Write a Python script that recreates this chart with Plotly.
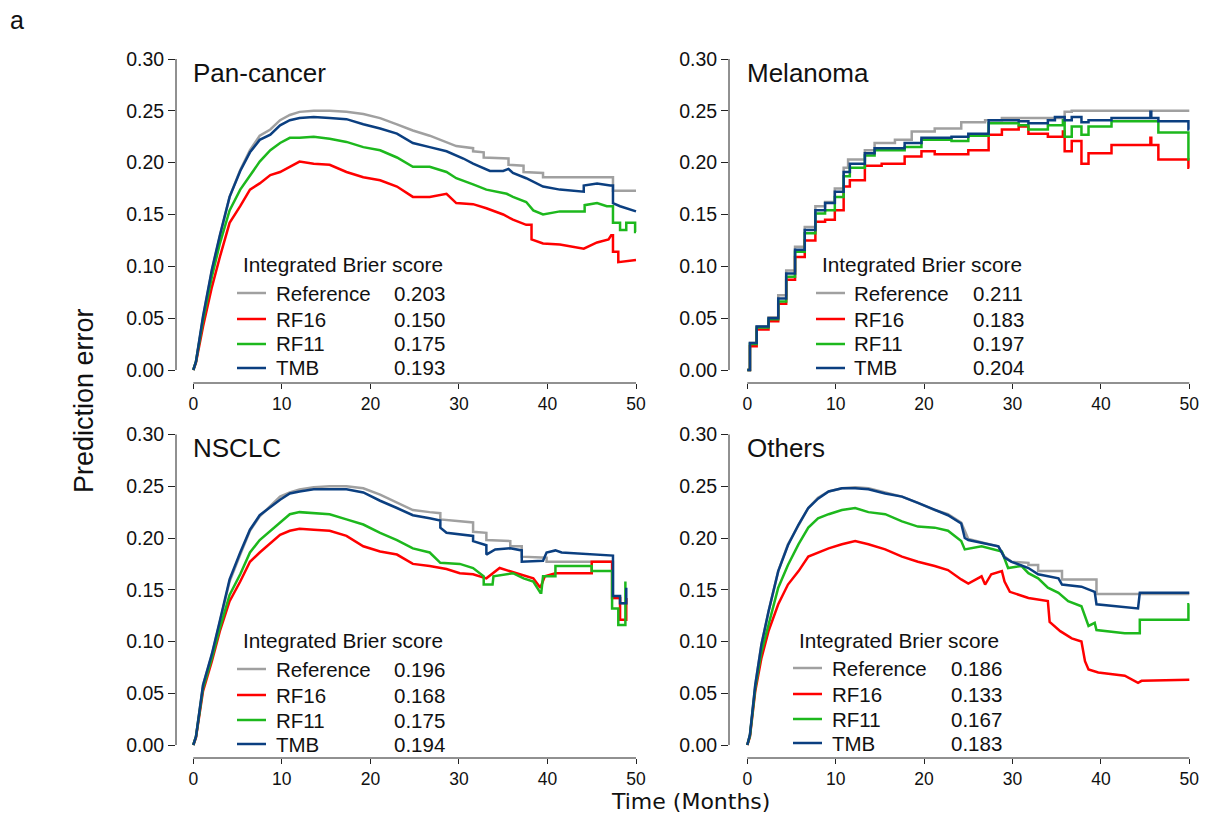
import plotly.graph_objects as go

# ---------------- data ----------------
series_names = ["Reference", "RF16", "RF11", "TMB"]
panel_titles = ["Pan-cancer", "Melanoma", "NSCLC", "Others"]
ibs_pan = ["0.203", "0.150", "0.175", "0.193"]
ibs_mel = ["0.211", "0.183", "0.197", "0.204"]
ibs_nsclc = ["0.196", "0.168", "0.175", "0.194"]
ibs_oth = ["0.186", "0.133", "0.167", "0.183"]
x_ticks = [0, 10, 20, 30, 40, 50]
y_ticks = [0.0, 0.05, 0.10, 0.15, 0.20, 0.25, 0.30]

# Pan-cancer
pan_ref_t = [0, 0.3, 1.1, 2.1, 3.0, 4.1, 5.3, 6.4, 7.5, 8.7, 9.8, 10.9, 12.0, 13.6, 15.4, 17.3, 19.2, 21.1, 23.0, 24.8, 26.7, 28.6, 29.7, 31.6, 31.6, 32.8, 32.8, 35.6, 35.6, 37.3, 37.3, 39.5, 39.5, 47.4, 47.4, 50.0]
pan_ref_v = [0, 0.008, 0.051, 0.096, 0.129, 0.167, 0.193, 0.212, 0.226, 0.232, 0.241, 0.246, 0.249, 0.250, 0.250, 0.249, 0.247, 0.243, 0.237, 0.231, 0.226, 0.220, 0.216, 0.214, 0.211, 0.210, 0.205, 0.204, 0.198, 0.197, 0.191, 0.190, 0.186, 0.186, 0.173, 0.173]
pan_rf16_t = [0, 0.3, 1.1, 2.1, 3.0, 4.1, 5.3, 6.4, 7.5, 8.7, 9.8, 10.9, 12.0, 13.6, 15.4, 17.3, 19.2, 21.1, 23.0, 24.8, 26.7, 28.6, 29.7, 31.6, 33.1, 35.0, 36.1, 37.6, 38.2, 38.2, 39.5, 41.4, 44.1, 45.6, 46.9, 47.2, 47.4, 47.4, 48.0, 48.0, 50.0]
pan_rf16_v = [0, 0.007, 0.042, 0.080, 0.109, 0.142, 0.158, 0.174, 0.180, 0.188, 0.191, 0.196, 0.201, 0.199, 0.198, 0.191, 0.186, 0.183, 0.177, 0.167, 0.167, 0.170, 0.161, 0.160, 0.156, 0.150, 0.145, 0.140, 0.140, 0.126, 0.122, 0.121, 0.117, 0.123, 0.126, 0.130, 0.130, 0.114, 0.114, 0.104, 0.106]
pan_rf11_t = [0, 0.3, 1.1, 2.1, 3.0, 4.1, 5.3, 6.4, 7.5, 8.7, 9.8, 10.9, 12.0, 13.6, 15.4, 17.3, 19.2, 21.1, 23.0, 24.8, 26.7, 28.6, 29.7, 31.6, 33.1, 35.4, 36.1, 37.6, 38.4, 39.5, 41.4, 44.2, 44.2, 45.6, 46.7, 47.4, 47.4, 48.2, 48.2, 48.9, 48.9, 49.9, 49.9, 50.0]
pan_rf11_v = [0, 0.008, 0.048, 0.090, 0.122, 0.154, 0.174, 0.188, 0.201, 0.212, 0.219, 0.224, 0.224, 0.225, 0.223, 0.220, 0.215, 0.212, 0.205, 0.196, 0.196, 0.191, 0.185, 0.179, 0.174, 0.170, 0.167, 0.162, 0.154, 0.150, 0.153, 0.153, 0.159, 0.161, 0.158, 0.158, 0.142, 0.142, 0.135, 0.135, 0.142, 0.142, 0.133, 0.133]
pan_tmb_t = [0, 0.3, 1.1, 2.1, 3.0, 4.1, 5.3, 6.4, 7.5, 8.7, 9.8, 10.9, 12.0, 13.6, 15.4, 17.3, 19.2, 21.1, 23.0, 24.8, 26.7, 28.6, 30.5, 31.6, 33.5, 35.0, 35.6, 36.1, 37.6, 39.5, 41.4, 44.1, 44.1, 45.6, 47.1, 47.4, 47.4, 48.2, 50.0]
pan_tmb_v = [0, 0.008, 0.052, 0.097, 0.130, 0.167, 0.192, 0.210, 0.222, 0.227, 0.236, 0.241, 0.243, 0.244, 0.243, 0.242, 0.237, 0.233, 0.228, 0.219, 0.215, 0.211, 0.204, 0.199, 0.192, 0.192, 0.194, 0.190, 0.185, 0.177, 0.174, 0.172, 0.178, 0.180, 0.178, 0.178, 0.161, 0.158, 0.153]

# Melanoma (step curves)
mel_ref_t = [0, 0.3, 1.06, 2.4, 3.5, 4.4, 5.4, 6.5, 7.7, 8.8, 9.9, 10.9, 11.4, 13.3, 14.4, 16.7, 18.6, 21.2, 24.2, 26.9, 28.8, 35.9, 36.7, 50.0]
mel_ref_v = [0, 0.026, 0.042, 0.051, 0.072, 0.096, 0.119, 0.138, 0.158, 0.162, 0.175, 0.195, 0.203, 0.212, 0.219, 0.222, 0.230, 0.233, 0.239, 0.241, 0.243, 0.249, 0.250, 0.250]
mel_rf16_t = [0, 0.3, 1.06, 2.4, 3.5, 4.4, 5.4, 6.5, 7.7, 8.8, 9.9, 10.9, 11.6, 13.3, 15.2, 17.8, 19.7, 21.2, 25.0, 27.3, 28.8, 30.7, 31.8, 34.0, 35.7, 35.9, 36.7, 37.8, 38.6, 41.2, 45.6, 45.7, 46.5, 49.9, 50.0]
mel_rf16_v = [0, 0.023, 0.039, 0.047, 0.064, 0.087, 0.109, 0.125, 0.143, 0.145, 0.154, 0.177, 0.183, 0.197, 0.199, 0.206, 0.211, 0.208, 0.212, 0.227, 0.232, 0.235, 0.228, 0.225, 0.230, 0.211, 0.221, 0.199, 0.209, 0.217, 0.224, 0.217, 0.203, 0.195, 0.195]
mel_rf11_t = [0, 0.3, 1.06, 2.4, 3.5, 4.4, 5.4, 6.5, 7.7, 8.8, 9.9, 10.9, 11.6, 13.3, 14.4, 17.8, 19.7, 23.1, 25.0, 27.3, 30.7, 31.8, 34.0, 35.7, 35.9, 36.7, 37.8, 38.6, 41.2, 46.5, 49.9, 50.0]
mel_rf11_v = [0, 0.025, 0.041, 0.049, 0.066, 0.090, 0.114, 0.132, 0.151, 0.154, 0.167, 0.187, 0.195, 0.207, 0.212, 0.215, 0.222, 0.221, 0.226, 0.238, 0.236, 0.232, 0.236, 0.241, 0.225, 0.235, 0.227, 0.235, 0.240, 0.229, 0.203, 0.203]
mel_tmb_t = [0, 0.3, 1.06, 2.4, 3.5, 4.4, 5.4, 6.5, 7.7, 8.8, 9.9, 10.9, 11.6, 13.3, 14.4, 17.8, 19.7, 23.1, 25.0, 27.3, 30.7, 31.8, 34.0, 34.8, 35.9, 36.7, 37.8, 38.6, 41.2, 45.6, 45.7, 46.5, 49.9, 50.0]
mel_tmb_v = [0, 0.026, 0.042, 0.050, 0.069, 0.093, 0.116, 0.135, 0.154, 0.161, 0.172, 0.191, 0.199, 0.209, 0.214, 0.219, 0.224, 0.225, 0.228, 0.241, 0.240, 0.238, 0.241, 0.244, 0.241, 0.244, 0.239, 0.241, 0.243, 0.249, 0.243, 0.240, 0.232, 0.232]

# NSCLC
nsc_ref_t = [0, 0.3, 1.1, 2.1, 3.0, 4.1, 5.3, 6.4, 7.5, 8.7, 9.8, 10.9, 12.0, 13.6, 15.4, 17.3, 19.2, 21.1, 23.0, 24.8, 26.7, 27.9, 27.9, 31.6, 31.6, 33.1, 33.1, 35.8, 35.8, 37.1, 37.1, 39.9, 39.9, 47.4, 47.4, 48.2, 48.2, 48.9, 48.9]
nsc_ref_v = [0, 0.008, 0.058, 0.087, 0.119, 0.158, 0.184, 0.207, 0.221, 0.231, 0.240, 0.244, 0.247, 0.249, 0.250, 0.250, 0.248, 0.242, 0.234, 0.227, 0.225, 0.224, 0.218, 0.215, 0.206, 0.205, 0.198, 0.197, 0.192, 0.192, 0.182, 0.181, 0.177, 0.177, 0.142, 0.142, 0.137, 0.137, 0.142]
nsc_rf16_t = [0, 0.3, 1.1, 2.1, 3.0, 4.1, 5.3, 6.4, 7.5, 8.7, 9.8, 10.9, 12.0, 13.6, 15.4, 17.3, 19.2, 21.1, 23.0, 24.8, 26.7, 28.6, 30.1, 31.6, 33.1, 34.6, 36.1, 38.4, 39.2, 39.7, 40.9, 45.0, 45.0, 47.3, 47.3, 48.2, 48.2, 48.9, 48.9]
nsc_rf16_v = [0, 0.007, 0.052, 0.081, 0.110, 0.139, 0.158, 0.177, 0.186, 0.195, 0.203, 0.207, 0.209, 0.208, 0.207, 0.202, 0.192, 0.187, 0.184, 0.175, 0.173, 0.170, 0.166, 0.165, 0.161, 0.171, 0.167, 0.161, 0.152, 0.163, 0.166, 0.166, 0.177, 0.177, 0.142, 0.142, 0.121, 0.121, 0.142]
nsc_rf11_t = [0, 0.3, 1.1, 2.1, 3.0, 4.1, 5.3, 6.4, 7.5, 8.7, 9.8, 10.9, 12.0, 13.6, 15.4, 17.3, 19.2, 21.1, 23.0, 24.8, 26.7, 27.9, 30.1, 31.6, 32.8, 32.8, 33.8, 33.9, 36.1, 37.3, 38.4, 39.2, 39.3, 39.5, 40.9, 40.9, 45.0, 45.0, 47.3, 47.3, 48.0, 48.0, 48.8, 48.8]
nsc_rf11_v = [0, 0.008, 0.055, 0.084, 0.113, 0.145, 0.165, 0.186, 0.198, 0.207, 0.215, 0.223, 0.225, 0.224, 0.223, 0.218, 0.213, 0.205, 0.198, 0.190, 0.186, 0.176, 0.175, 0.171, 0.163, 0.155, 0.155, 0.163, 0.166, 0.161, 0.158, 0.147, 0.147, 0.163, 0.163, 0.173, 0.173, 0.168, 0.168, 0.132, 0.132, 0.116, 0.116, 0.158]
nsc_tmb_t = [0, 0.3, 1.1, 2.1, 3.0, 4.1, 5.3, 6.4, 7.5, 8.7, 9.8, 10.9, 12.0, 13.6, 15.4, 17.3, 19.2, 21.1, 23.0, 24.8, 26.7, 27.9, 27.9, 28.6, 31.6, 31.6, 33.1, 33.1, 34.1, 35.8, 37.1, 37.1, 39.5, 39.9, 40.9, 41.6, 47.4, 47.4, 48.2, 48.2, 48.9, 48.9]
nsc_tmb_v = [0, 0.008, 0.058, 0.088, 0.120, 0.160, 0.186, 0.208, 0.222, 0.230, 0.237, 0.243, 0.245, 0.247, 0.247, 0.247, 0.244, 0.236, 0.229, 0.222, 0.219, 0.217, 0.210, 0.205, 0.202, 0.197, 0.193, 0.184, 0.189, 0.190, 0.188, 0.177, 0.178, 0.186, 0.188, 0.186, 0.183, 0.144, 0.144, 0.137, 0.137, 0.152]

# Others
oth_ref_t = [0, 0.3, 0.9, 1.6, 2.4, 3.5, 4.6, 5.8, 6.9, 8.0, 9.2, 10.7, 12.2, 13.7, 15.6, 17.5, 19.3, 21.2, 22.7, 24.2, 24.6, 25.0, 26.9, 28.4, 29.1, 29.9, 31.8, 31.8, 32.9, 32.9, 35.6, 35.6, 39.5, 39.5, 50.0]
oth_ref_v = [0, 0.010, 0.058, 0.097, 0.129, 0.168, 0.194, 0.213, 0.229, 0.239, 0.245, 0.248, 0.249, 0.248, 0.244, 0.240, 0.234, 0.227, 0.223, 0.215, 0.207, 0.199, 0.195, 0.192, 0.182, 0.177, 0.176, 0.174, 0.174, 0.168, 0.168, 0.160, 0.160, 0.146, 0.146]
oth_rf16_t = [0, 0.3, 0.9, 1.6, 2.4, 3.5, 4.6, 5.8, 6.9, 8.0, 9.2, 10.7, 12.2, 13.7, 15.6, 17.5, 19.3, 21.2, 22.7, 24.2, 25.0, 26.5, 26.9, 27.6, 28.8, 29.1, 29.7, 31.8, 34.0, 34.2, 35.4, 36.7, 37.8, 38.2, 38.6, 39.7, 42.7, 44.2, 44.6, 50.0]
oth_rf16_v = [0, 0.008, 0.052, 0.084, 0.110, 0.136, 0.155, 0.168, 0.182, 0.186, 0.190, 0.194, 0.197, 0.194, 0.189, 0.182, 0.177, 0.173, 0.169, 0.160, 0.156, 0.163, 0.155, 0.165, 0.168, 0.158, 0.148, 0.142, 0.139, 0.119, 0.110, 0.103, 0.100, 0.081, 0.073, 0.070, 0.067, 0.060, 0.062, 0.063]
oth_rf11_t = [0, 0.3, 0.9, 1.6, 2.4, 3.5, 4.6, 5.8, 6.9, 8.0, 9.2, 10.7, 12.2, 13.7, 15.6, 17.5, 19.3, 21.2, 22.7, 24.2, 24.6, 26.5, 28.8, 29.5, 31.0, 31.8, 32.9, 34.0, 35.2, 36.3, 37.8, 38.6, 39.3, 39.5, 42.7, 44.4, 44.4, 49.9, 49.9, 50.0]
oth_rf11_v = [0, 0.009, 0.055, 0.090, 0.116, 0.152, 0.174, 0.194, 0.210, 0.219, 0.223, 0.227, 0.229, 0.225, 0.223, 0.216, 0.211, 0.210, 0.207, 0.197, 0.189, 0.192, 0.187, 0.171, 0.173, 0.166, 0.161, 0.152, 0.147, 0.139, 0.134, 0.115, 0.118, 0.111, 0.108, 0.108, 0.121, 0.121, 0.136, 0.136]
oth_tmb_t = [0, 0.3, 0.9, 1.6, 2.4, 3.5, 4.6, 5.8, 6.9, 8.0, 9.2, 10.7, 12.2, 13.7, 15.6, 17.5, 19.3, 21.2, 22.7, 24.2, 24.6, 25.0, 26.9, 28.4, 29.1, 29.9, 31.8, 32.9, 35.2, 35.6, 37.8, 39.3, 39.5, 41.6, 44.2, 44.4, 50.0]
oth_tmb_v = [0, 0.010, 0.058, 0.097, 0.129, 0.168, 0.193, 0.213, 0.229, 0.238, 0.245, 0.248, 0.248, 0.247, 0.243, 0.240, 0.234, 0.227, 0.222, 0.214, 0.200, 0.198, 0.195, 0.192, 0.181, 0.177, 0.171, 0.165, 0.161, 0.155, 0.153, 0.148, 0.136, 0.134, 0.132, 0.147, 0.147]

# ---------------- styling / layout ----------------
W, H = 1208, 814
colors = ["#A0A0A0", "#FF0000", "#1DB81D", "#0B3F80"]
AX = "#222222"
FONT = "Liberation Sans, Arial, sans-serif"


def px(x):
    return x / W


def py(y):
    return 1 - y / H


# geometry in pixels: (yaxis-line x, x=0 px, x=50 px, right edge, xaxis-line y, y=0 px, y=0.30 px, top edge)
geo = [
    (176, 193.3, 636.0, 645, 383, 370.0, 59.0, 48),
    (729, 747.3, 1189.3, 1198, 383, 370.0, 59.0, 48),
    (176, 193.3, 636.0, 645, 758, 745.0, 434.5, 423),
    (729, 747.3, 1189.3, 1198, 758, 745.0, 434.5, 423),
]

panel_data = [
    [(pan_ref_t, pan_ref_v), (pan_rf16_t, pan_rf16_v), (pan_rf11_t, pan_rf11_v), (pan_tmb_t, pan_tmb_v)],
    [(mel_ref_t, mel_ref_v), (mel_rf16_t, mel_rf16_v), (mel_rf11_t, mel_rf11_v), (mel_tmb_t, mel_tmb_v)],
    [(nsc_ref_t, nsc_ref_v), (nsc_rf16_t, nsc_rf16_v), (nsc_rf11_t, nsc_rf11_v), (nsc_tmb_t, nsc_tmb_v)],
    [(oth_ref_t, oth_ref_v), (oth_rf16_t, oth_rf16_v), (oth_rf11_t, oth_rf11_v), (oth_tmb_t, oth_tmb_v)],
]
panel_ibs = [ibs_pan, ibs_mel, ibs_nsclc, ibs_oth]
line_shapes = ["linear", "hv", "linear", "linear"]

# legend geometry (pixels): line x0, line x1, label x, value x, header x, header y, row ys
leg = [
    (237, 266, 274, 392, 241, 265, [293, 319, 344, 368]),
    (816, 845, 852, 971, 820, 265, [293, 319, 344, 368]),
    (237, 266, 274, 392, 241, 640, [669, 695, 720, 744]),
    (793, 822, 830, 949, 797, 640, [668, 694, 719, 743]),
]
title_pos = [(191, 73), (745, 73), (191, 448), (745, 448)]

fig = go.Figure()
shapes = []
annotations = []
layout_axes = {}

for i in range(4):
    yl, x0p, x50p, rgt, xl, y0p, y30p, top = geo[i]
    kx = (x50p - x0p) / 50.0
    ky = (y0p - y30p) / 0.30
    xr = [(yl - x0p) / kx, (rgt - x0p) / kx]
    yr = [(y0p - xl) / ky, (y0p - top) / ky]
    sfx = "" if i == 0 else str(i + 1)
    xa, ya = "x" + sfx, "y" + sfx
    layout_axes["xaxis" + sfx] = dict(
        domain=[px(yl), px(rgt)], range=xr, anchor=ya,
        showgrid=False, zeroline=False, showline=False,
        ticks="outside", ticklen=5, tickwidth=1, tickcolor=AX,
        tickvals=x_ticks, ticktext=[str(v) for v in x_ticks],
        tickfont=dict(family=FONT, size=17.5, color="#111111"),
    )
    layout_axes["yaxis" + sfx] = dict(
        domain=[py(xl), py(top)], range=yr, anchor=xa,
        showgrid=False, zeroline=False, showline=False,
        ticks="outside", ticklen=7, tickwidth=1, tickcolor=AX,
        tickvals=y_ticks, ticktext=["%.2f" % v for v in y_ticks],
        tickfont=dict(family=FONT, size=19.5, color="#111111"),
    )
    # R-style axis lines spanning only the tick range
    shapes.append(dict(type="line", xref=xa, yref=ya + " domain", x0=0, x1=50, y0=0, y1=0,
                       line=dict(color=AX, width=1)))
    shapes.append(dict(type="line", xref=xa + " domain", yref=ya, x0=0, x1=0, y0=0, y1=0.30,
                       line=dict(color=AX, width=1)))

    for j, (t, v) in enumerate(panel_data[i]):
        fig.add_trace(go.Scatter(
            x=t, y=v, mode="lines", xaxis=xa, yaxis=ya,
            line=dict(color=colors[j], width=2.5, shape=line_shapes[i]),
            showlegend=False, hoverinfo="skip",
        ))

    # title
    tx, ty = title_pos[i]
    annotations.append(dict(text=panel_titles[i], x=px(tx), y=py(ty), xref="paper", yref="paper",
                            xanchor="left", yanchor="middle", showarrow=False,
                            font=dict(family=FONT, size=26, color="#111111")))
    # legend
    lx0, lx1, labx, valx, hx, hy, rows = leg[i]
    annotations.append(dict(text="Integrated Brier score", x=px(hx), y=py(hy), xref="paper", yref="paper",
                            xanchor="left", yanchor="middle", showarrow=False,
                            font=dict(family=FONT, size=20.8, color="#111111")))
    for j in range(4):
        ry = rows[j]
        shapes.append(dict(type="line", xref="paper", yref="paper", x0=px(lx0), x1=px(lx1),
                           y0=py(ry), y1=py(ry), line=dict(color=colors[j], width=2.5)))
        annotations.append(dict(text=series_names[j], x=px(labx), y=py(ry), xref="paper", yref="paper",
                                xanchor="left", yanchor="middle", showarrow=False,
                                font=dict(family=FONT, size=20.5, color="#111111")))
        annotations.append(dict(text=panel_ibs[i][j], x=px(valx), y=py(ry), xref="paper", yref="paper",
                                xanchor="left", yanchor="middle", showarrow=False,
                                font=dict(family=FONT, size=20.5, color="#111111")))

# global labels
annotations.append(dict(text="a", x=px(17), y=py(20), xref="paper", yref="paper",
                        xanchor="center", yanchor="middle", showarrow=False,
                        font=dict(family=FONT, size=25, color="#111111")))
annotations.append(dict(text="Prediction error", x=px(84), y=py(401), xref="paper", yref="paper",
                        xanchor="center", yanchor="middle", showarrow=False, textangle=-90,
                        font=dict(family=FONT, size=27, color="#111111")))
annotations.append(dict(text="Time (Months)", x=px(690), y=py(801), xref="paper", yref="paper",
                        xanchor="center", yanchor="middle", showarrow=False,
                        font=dict(family="DejaVu Sans, " + FONT, size=22, color="#111111")))

fig.update_layout(
    width=W, height=H, margin=dict(l=0, r=0, t=0, b=0),
    paper_bgcolor="white", plot_bgcolor="white",
    shapes=shapes, annotations=annotations, showlegend=False,
    **layout_axes,
)

fig.write_html("out.html")
